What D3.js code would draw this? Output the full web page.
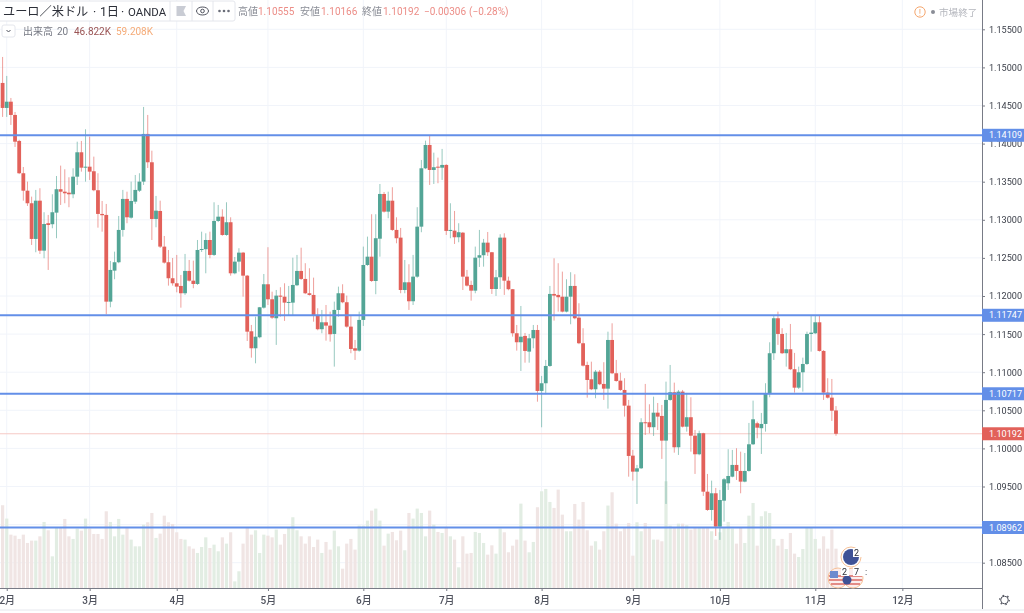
<!DOCTYPE html>
<html lang="ja">
<head>
<meta charset="utf-8">
<script src="https://cdn.jsdelivr.net/npm/d3@7"></script>
<style>
  html, body { margin: 0; padding: 0; background: #fff; overflow: hidden; }
  svg { display: block; filter: blur(0.42px); }
  text { font-family: Roboto, "Noto Sans CJK JP", sans-serif; }
</style>
</head>
<body>
<svg id="chart" width="1024" height="613"></svg>
<script>
// prices are in 1/100000 of a dollar, volume in K
const opens = [
  114796,114468,114550,114376,114035,113611,113382,113217,112749,113251,
  112595,112955,112942,113094,113401,113369,113356,113335,113566,113886,
  113684,113697,113637,113388,113077,113064,111926,112333,112443,112867,
  113274,113028,113238,113382,113501,114127,113755,113011,113116,112648,
  112443,112233,112167,112132,112036,112329,112201,112158,112604,112614,
  112735,112539,112985,113041,112801,112968,112298,112451,112569,112267,
  111537,111314,111459,111847,112154,111957,111708,112005,111991,111913,
  111913,112141,112329,112224,112036,112014,111742,111564,111655,111611,
  111502,111817,112036,111918,111598,111314,111283,111686,112407,112516,
  112197,112752,113339,113107,113251,112867,112766,112079,112180,111931,
  112254,112910,113676,113982,113654,113697,113684,113720,112854,112858,
  112771,112831,112254,112145,112070,112503,112535,112700,112574,112092,
  112246,112766,112201,112089,111511,111393,111476,111270,111445,111554,
  110754,110855,111082,112027,112014,111991,111795,111991,112132,111716,
  111380,111095,110907,110776,111007,110846,110784,111423,110986,110889,
  110767,110561,109905,109695,109739,110343,110343,110278,110469,110426,
  110102,110636,110737,110015,110745,110285,110409,110167,109923,110199,
  109432,109192,109411,108973,109314,109542,109629,109783,109704,109564,
  109704,110054,110330,110265,110321,110724,111249,111708,111502,111249,
  111301,111039,110797,110999,111108,111502,111511,111655,111279,110732,
  110666,110498
];
const closes = [
  114468,114550,114376,114025,113611,113382,113217,112749,113251,112595,
  112945,112932,113099,113401,113369,113348,113335,113566,113886,113684,
  113697,113632,113388,113077,113060,111926,112342,112443,112867,113274,
  113033,113247,113392,113501,114127,113755,113011,113120,112648,112438,
  112233,112167,112123,112036,112329,112201,112158,112604,112617,112735,
  112539,112985,113041,112801,112968,112298,112451,112569,112267,111532,
  111314,111466,111852,112154,111957,111716,112005,111991,111913,111922,
  112145,112329,112224,112036,112014,111742,111564,111655,111611,111498,
  111817,112036,111918,111598,111305,111283,111686,112407,112516,112197,
  112758,113339,113107,113251,112867,112758,112079,112180,111931,112254,
  112910,113676,113982,113654,113690,113684,113720,112854,112867,112771,
  112837,112254,112136,112070,112503,112535,112700,112574,112092,112246,
  112766,112201,112089,111511,111393,111466,111279,111445,111554,110754,
  110855,111082,112027,112005,111984,111795,111991,112132,111708,111380,
  111086,110898,110776,111007,110842,110784,111423,110986,110885,110767,
  110561,109901,109695,109739,110343,110334,110278,110469,110417,110102,
  110636,110737,110015,110745,110285,110409,110167,109923,110199,109432,
  109192,109411,108973,109323,109595,109638,109783,109704,109564,109704,
  110054,110382,110272,110321,110724,111249,111708,111502,111249,111301,
  111039,110797,110999,111108,111502,111519,111655,111279,110732,110666,
  110495,110192
];
const highs = [
  115137,114888,114599,114415,114050,113693,113501,113304,113392,113414,
  113099,113064,113335,113575,113711,113663,113558,113676,114025,114035,
  114188,114091,113829,113611,113247,113208,112460,112582,113050,113392,
  113369,113501,113588,113611,114481,114376,113907,113313,113251,112788,
  112604,112499,112539,112276,112552,112473,112464,112735,112844,112823,
  112844,113230,113195,113138,113230,113033,112512,112627,112578,112276,
  111620,111729,111856,112289,112640,112057,112079,112115,112167,112132,
  112503,112539,112634,112430,112364,112241,111839,111817,111882,111795,
  111926,112123,112154,112005,111738,111423,111795,112648,112779,113073,
  113073,113470,113365,113369,113427,113033,112893,112473,112417,112539,
  113165,113785,114039,114113,113881,113816,113930,113730,113217,113116,
  112955,112840,112342,112201,112648,112867,112749,112840,112578,112342,
  112810,112823,112254,112092,111620,111869,111515,111502,111620,111620,
  110951,111161,112132,112495,112430,112320,112220,112312,112285,111905,
  111577,111138,111138,111029,111029,111131,111532,111642,111161,110994,
  110921,110636,109980,109783,110396,110846,110579,110679,110596,110570,
  110876,111095,110863,110767,110767,110728,110671,110242,110233,110205,
  109665,109577,109481,109455,109612,109989,109980,110002,109957,109940,
  110334,110627,110351,110465,110855,111393,111738,111795,111577,111515,
  111633,111253,111073,111191,111532,111751,111751,111751,111290,110921,
  110911,110555
];
const lows = [
  114350,114350,114245,113956,113600,113251,113182,112670,112574,112552,
  112495,112342,112889,112758,113195,113217,113165,113283,113457,113632,
  113501,113523,113375,112897,112844,111760,111852,112220,112430,112779,
  112955,113015,113208,113365,113457,113680,112735,112902,112630,112425,
  112136,112136,112049,111847,112014,112190,112102,112145,112578,112298,
  112495,112525,112970,112790,112790,112267,112285,112319,111991,111410,
  111191,111117,111445,111835,111882,111700,111358,111729,111673,111751,
  111751,112130,112210,112025,112005,111663,111550,111511,111414,111401,
  111073,111729,111905,111585,111249,111161,111270,111607,112395,112185,
  112023,112516,113095,113020,112855,112692,112036,112036,111817,111882,
  112240,112837,113665,113457,113470,113480,113523,112801,112758,112683,
  112705,112079,112125,111939,112036,112381,112385,112526,112027,112001,
  112092,112014,112075,111467,111283,111016,111125,111125,111314,110613,
  110277,110711,111070,111677,111795,111785,111785,111629,111695,111368,
  111075,110666,110765,110658,110830,110636,110522,110975,110875,110755,
  110417,109629,109577,109271,109730,110176,110199,110163,110242,109862,
  109271,110625,109944,109914,110275,110220,109957,109665,109910,109376,
  109180,109052,108851,108799,109039,109455,109620,109586,109411,109555,
  109695,110045,110133,109927,110220,110671,111161,111358,111238,111073,
  111028,110732,110780,110745,111095,111270,111500,111270,110636,110655,
  110360,110166
];
const volumes = [
  98.5,82.6,63.5,62.3,58.4,63.5,53.6,56.4,56.4,61.5,
  78.6,68.7,37.7,71.5,71.5,82.2,61.5,58.4,70.7,68.3,
  82.6,70.7,64.3,64.3,58.4,91.3,78.6,61.5,82.2,63.5,
  71.5,57.6,49.6,49.6,75.4,78.2,89.3,59.6,64.7,86.1,
  78.2,76.2,66.3,58.4,57.6,49.6,46.8,41.7,48.8,60.3,
  47.6,51.6,43.7,60.3,52.8,66.3,7.9,19.9,52.8,71.5,
  63.5,68.7,41.7,63.5,62.3,60.3,69.5,51.6,64.3,71.5,
  84.2,68.7,61.5,52.8,61.5,48.8,57.6,41.7,54.8,45.7,
  68.3,49.6,23,52.8,58.4,45.7,74.2,74.2,80.2,92.1,
  94.5,80.2,50.4,64.7,66.7,56.8,68.3,44.9,89.3,82.6,
  94.5,89.3,61.5,92.1,75.4,66.7,65.5,72.7,61.5,57.6,
  24.6,61.5,40.9,41.7,66.7,65.5,53.6,39.7,50.8,40.9,
  70.7,66.3,42.5,50.4,57.6,100.4,56.4,42.5,54.8,96.1,
  115.1,117.9,102.4,95.3,117.1,87.3,67.5,67.5,100,81.4,
  102.4,68.7,50.4,55.6,45.7,67.5,98.1,113.9,76.6,67.5,
  71.5,77.4,38.5,78.2,67.5,77.4,71.5,57.6,57.6,55.6,
  127,74.2,71.5,76.6,76.6,74.6,69.5,71.5,71.5,71.5,
  71.5,67.5,57.6,66.3,71.5,78.6,70.7,52.8,72.3,53.6,
  86.1,101.2,50.4,85.4,91.3,89.3,58.4,50.4,58.4,46.4,
  65.5,40.9,36.9,46.4,71.5,71.5,58.4,46.8,61.5,46.8,
  69.5,46.8
];
const priceTicks = [
  1.155, 1.15, 1.145, 1.14, 1.135, 1.13, 1.125, 1.12, 1.115, 1.11,
  1.105, 1.1, 1.095, 1.09, 1.085
];
const monthBars = [1, 21, 42, 64, 87, 107, 130, 152, 173, 196, 217];
const monthLabels = ["2月", "3月", "4月", "5月", "6月", "7月", "8月", "9月", "10月", "11月", "12月"];
const levels = [1.14109, 1.11747, 1.10717, 1.08962];
const lastPrice = 1.10192;

const W = 1024, H = 613;
const axisX = 982, axisY = 588;
const UP = "#53a596", DOWN = "#e2615a";
const LEVEL = "#638fe8";

const candles = opens.map((o, i) => ({
  i, o: o / 1e5, c: closes[i] / 1e5, h: highs[i] / 1e5, l: lows[i] / 1e5, v: volumes[i]
}));

const x = d3.scaleLinear().domain([0, 201]).range([2.6, 836]);
const y = d3.scaleLinear().domain([1.155, 1.085]).range([29.3, 562.7]);
const vy = d3.scaleLinear().domain([0, 130]).range([axisY, axisY - 130 / 1.19]);

const svg = d3.select("#chart");
const fmt = d3.format(".5f");

// grid
const grid = svg.append("g");
grid.selectAll("line.h").data(priceTicks).join("line")
  .attr("class", "h")
  .attr("x1", 0).attr("x2", axisX)
  .attr("y1", (d) => y(d)).attr("y2", (d) => y(d))
  .attr("stroke", "#f1f4fa");
grid.selectAll("line.v").data(monthBars).join("line")
  .attr("class", "v")
  .attr("x1", (d) => x(d)).attr("x2", (d) => x(d))
  .attr("y1", 0).attr("y2", axisY)
  .attr("stroke", "#f1f4fa");

// volume
svg.append("g").selectAll("rect").data(candles).join("rect")
  .attr("x", (d) => x(d.i) - 1.6)
  .attr("width", 3.2)
  .attr("y", (d) => vy(d.v))
  .attr("height", (d) => axisY - vy(d.v))
  .attr("fill", (d) => (d.c >= d.o ? "#e2ede3" : "#f0e5e4"));

// last price line
svg.append("line")
  .attr("x1", 0).attr("x2", axisX)
  .attr("y1", y(lastPrice)).attr("y2", y(lastPrice))
  .attr("stroke", "#f6c9c5");

// candles
const bars = svg.append("g");
bars.selectAll("line").data(candles).join("line")
  .attr("x1", (d) => x(d.i)).attr("x2", (d) => x(d.i))
  .attr("y1", (d) => y(d.h)).attr("y2", (d) => y(d.l))
  .attr("stroke", (d) => (d.c >= d.o ? UP : DOWN))
  .attr("stroke-opacity", 0.6);
bars.selectAll("rect").data(candles).join("rect")
  .attr("x", (d) => x(d.i) - 1.9)
  .attr("width", 3.8)
  .attr("y", (d) => y(Math.max(d.o, d.c)))
  .attr("height", (d) => Math.max(1, Math.abs(y(d.o) - y(d.c))))
  .attr("fill", (d) => (d.c >= d.o ? UP : DOWN));

// horizontal levels
svg.append("g").selectAll("line").data(levels).join("line")
  .attr("x1", 0).attr("x2", axisX)
  .attr("y1", (d) => y(d)).attr("y2", (d) => y(d))
  .attr("stroke", LEVEL)
  .attr("stroke-width", 2);

// price axis, 1.09000 sits behind the 1.08962 label in the reference
svg.append("rect").attr("x", axisX).attr("y", 0).attr("width", W - axisX).attr("height", H).attr("fill", "#fff");
const gy = svg.append("g")
  .attr("transform", `translate(${axisX},0)`)
  .call(d3.axisRight(y).tickValues(priceTicks)
    .tickFormat((d) => (d === 1.09 ? "" : fmt(d))).tickSize(3).tickPadding(4));
gy.select(".domain").remove();
gy.selectAll("line").attr("stroke", "#787b86");
gy.selectAll("text")
  .attr("fill", "#3a3e48")
  .style("font-size", "9.1px")
  .style("font-family", "Roboto, sans-serif");

// time axis
svg.append("rect").attr("x", 0).attr("y", axisY).attr("width", axisX).attr("height", H - axisY).attr("fill", "#fff");
const gx = svg.append("g")
  .attr("transform", `translate(0,${axisY})`)
  .call(d3.axisBottom(x).tickValues(monthBars)
    .tickFormat((d, i) => monthLabels[i]).tickSize(3).tickPadding(6));
gx.select(".domain").remove();
gx.selectAll("line").attr("stroke", "#787b86");
gx.selectAll("text")
  .attr("fill", "#50535e")
  .style("font-size", "10px")
  .style("font-weight", "500");

svg.append("line").attr("x1", 0).attr("x2", axisX).attr("y1", axisY + 0.5).attr("y2", axisY + 0.5)
  .attr("stroke", "#787b86");
svg.append("line").attr("x1", axisX + 0.5).attr("x2", axisX + 0.5).attr("y1", 0).attr("y2", 609)
  .attr("stroke", "#787b86");
svg.append("line").attr("x1", 0).attr("x2", W).attr("y1", 610).attr("y2", 610)
  .attr("stroke", "#e6e8ee");

// price labels
const labelData = levels.map((p) => ({ p, fill: LEVEL })).concat([{ p: lastPrice, fill: "#e2615a" }]);
const labels = svg.append("g").selectAll("g").data(labelData).join("g")
  .attr("transform", (d) => `translate(${axisX},${y(d.p)})`);
labels.append("rect")
  .attr("x", 0).attr("y", -6.5).attr("width", 42).attr("height", 13)
  .attr("fill", (d) => d.fill);
labels.append("text")
  .attr("x", 7).attr("dy", "0.35em")
  .attr("fill", "#fff")
  .style("font-size", "9.1px")
  .text((d) => fmt(d.p));

// header box
const head = svg.append("g");
head.append("rect").attr("x", -2).attr("y", 1).attr("width", 237).attr("height", 20).attr("rx", 2)
  .attr("fill", "#fff").attr("stroke", "#e4e6ec");
head.append("line").attr("x1", 170).attr("x2", 170).attr("y1", 1).attr("y2", 21).attr("stroke", "#e4e6ec");
head.append("line").attr("x1", 192).attr("x2", 192).attr("y1", 1).attr("y2", 21).attr("stroke", "#e4e6ec");
head.append("line").attr("x1", 213).attr("x2", 213).attr("y1", 1).attr("y2", 21).attr("stroke", "#e4e6ec");
const titleParts = [["ユーロ／米ドル", 3, 12.2], ["·", 93, 12.2], ["1日", 100, 12.2], ["·", 121, 12.2], ["OANDA", 128, 11.4]];
head.selectAll("text.title").data(titleParts).join("text")
  .attr("class", "title")
  .attr("x", (d) => d[1]).attr("y", 15.5)
  .attr("fill", "#2c2f38")
  .style("font-size", (d) => d[2] + "px")
  .text((d) => d[0]);
// flag, eye, dots
head.append("path").attr("d", "M176.5 6H186L183.5 11L186 16H176.5Z").attr("fill", "#c9ccd4");
head.append("ellipse").attr("cx", 202.5).attr("cy", 11).attr("rx", 6).attr("ry", 4)
  .attr("fill", "none").attr("stroke", "#50535e");
head.append("circle").attr("cx", 202.5).attr("cy", 11).attr("r", 1.8)
  .attr("fill", "none").attr("stroke", "#50535e");
head.selectAll("circle.dot").data([219.5, 224, 228.5]).join("circle")
  .attr("class", "dot").attr("cx", (d) => d).attr("cy", 11).attr("r", 1.3).attr("fill", "#6a6d78");

const ohlcParts = [
  ["高値", 238, "#8a8d96"], ["1.10555", 258, "#ec8d87"],
  ["安値", 300, "#8a8d96"], ["1.10166", 321, "#ec8d87"],
  ["終値", 362, "#8a8d96"], ["1.10192", 383, "#ec8d87"],
  ["−0.00306", 424, "#ec8d87"], ["(−0.28%)", 469, "#ec8d87"]
];
svg.append("g").selectAll("text").data(ohlcParts).join("text")
  .attr("x", (d) => d[1]).attr("y", 14.5)
  .attr("fill", (d) => d[2])
  .style("font-size", "10px")
  .text((d) => d[0]);

// volume legend
svg.append("rect").attr("x", 2).attr("y", 25).attr("width", 13).attr("height", 12).attr("rx", 2)
  .attr("fill", "#fff").attr("stroke", "#e4e6ec");
svg.append("path").attr("d", "M6.5 30L8.5 32L10.5 30").attr("fill", "none").attr("stroke", "#50535e");
const volParts = [
  ["出来高", 23, "#777a84"], ["20", 57, "#777a84"],
  ["46.822K", 74, "#9a5454"], ["59.208K", 116, "#f5ab78"]
];
svg.append("g").selectAll("text").data(volParts).join("text")
  .attr("x", (d) => d[1]).attr("y", 34.5)
  .attr("fill", (d) => d[2])
  .style("font-size", "10px")
  .text((d) => d[0]);

// market status
svg.append("circle").attr("cx", 920).attr("cy", 12).attr("r", 5.2)
  .attr("fill", "#fff").attr("stroke", "#f4a66e");
svg.append("text").attr("x", 920).attr("y", 15.5).attr("text-anchor", "middle")
  .attr("fill", "#f4a66e").style("font-size", "9px").text("!");
svg.append("circle").attr("cx", 933).attr("cy", 12).attr("r", 2).attr("fill", "#8a8d96");
svg.append("text").attr("x", 939).attr("y", 15.5)
  .attr("fill", "#b4b6bd").style("font-size", "9.6px").text("市場終了");

// calendar event badges
const events = svg.append("g");
const badge = (cx, cy, r, fill) => events.append("circle").attr("cx", cx).attr("cy", cy).attr("r", r)
  .attr("fill", fill).attr("stroke", "#f6c096").attr("stroke-width", 1);
badge(851, 557, 10, "#fff");
events.append("circle").attr("cx", 851).attr("cy", 557).attr("r", 8).attr("fill", "#3f5296");
events.append("rect").attr("x", 853).attr("y", 548).attr("width", 14).attr("height", 9).attr("fill", "#fff");
badge(838, 578, 10, "#fbeeed");
badge(853, 578, 10, "#fbeeed");
events.append("path").attr("d", "M829 576H862M829 580H862M831 584H860")
  .attr("fill", "none").attr("stroke", "#dc6b64").attr("stroke-width", 1.4);
events.append("rect").attr("x", 830).attr("y", 571).attr("width", 8).attr("height", 7).attr("fill", "#6d8bcf");
events.append("circle").attr("cx", 847).attr("cy", 580).attr("r", 4.5).attr("fill", "#3f5296");
events.append("rect").attr("x", 841).attr("y", 567).attr("width", 8).attr("height", 9).attr("fill", "#fff");
events.append("rect").attr("x", 853).attr("y", 567).attr("width", 14).attr("height", 9).attr("fill", "#fff");
events.selectAll("text").data([["2", 854, 556], ["2", 842, 575], ["7", 854, 575], [":", 865, 575]]).join("text")
  .attr("x", (d) => d[1]).attr("y", (d) => d[2])
  .attr("fill", "#2c2f38").style("font-size", "9px").text((d) => d[0]);

// settings gear
svg.append("circle").attr("cx", 1004.5).attr("cy", 600).attr("r", 3.8)
  .attr("fill", "none").attr("stroke", "#50535e").attr("stroke-width", 1);
svg.append("circle").attr("cx", 1004.5).attr("cy", 600).attr("r", 4.8)
  .attr("fill", "none").attr("stroke", "#50535e").attr("stroke-width", 1.2)
  .attr("stroke-dasharray", "1.5 3.5");
</script>
</body>
</html>
